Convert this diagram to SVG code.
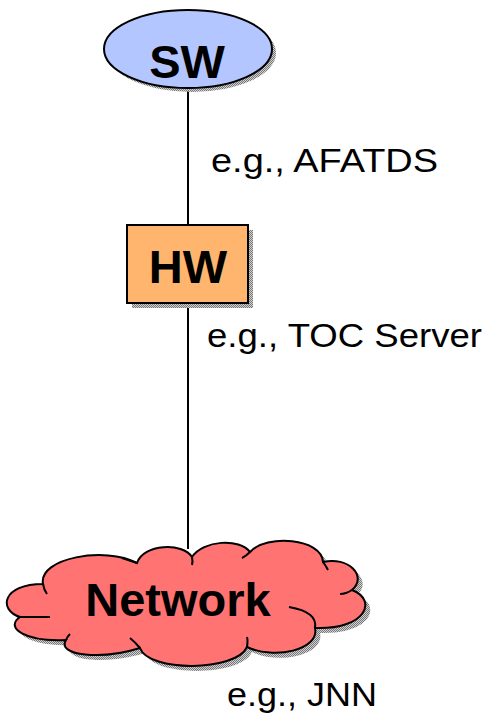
<svg xmlns="http://www.w3.org/2000/svg" width="491" height="717" viewBox="0 0 491 717">
  <defs>
    <!-- halftone grey used for drop shadows -->
    <pattern id="halftone" width="2" height="2" patternUnits="userSpaceOnUse">
      <rect width="2" height="2" fill="#d0d0d0"/>
      <rect width="1" height="1" fill="#777"/>
      <rect x="1" y="1" width="1" height="1" fill="#777"/>
    </pattern>
    <path id="cloudShape" d="M 43,584
      C 38,558 105,546 137,563
      C 143,544 183,542 192,557
      C 203,540 240,538 250,552
      C 266,534 322,538 323,562
      C 348,556 368,576 352,590
      C 378,600 366,630 315,628
      C 320,650 274,660 247,647
      C 236,672 148,672 140,648
      C 102,660 56,656 66,640
      C 26,642 4,628 20,617
      C -2,610 2,584 43,584 Z"/>
  </defs>
  <style>
    .edge { stroke: #000; stroke-width: 2; fill: none; }
    .shape { stroke: #000; stroke-width: 2; }
    .shadow { fill: url(#halftone); stroke: none; }
    .title { font-family: "Liberation Sans", Arial, sans-serif; font-weight: bold; font-size: 47px; fill: #000; text-anchor: middle; }
    .note { font-family: "Liberation Sans", Arial, sans-serif; font-size: 33px; fill: #000; }
    .notch { stroke: #000; stroke-width: 2; fill: none; }
  </style>

  <!-- connectors -->
  <g id="connectors">
    <line class="edge" x1="188" y1="88" x2="188" y2="225"/>
    <line class="edge" x1="188" y1="303" x2="188" y2="549"/>
  </g>

  <!-- software node -->
  <g id="sw">
    <ellipse class="shadow" cx="192" cy="53" rx="84" ry="39"/>
    <ellipse class="shape" cx="188" cy="49" rx="84" ry="39" fill="#b3c6ff"/>
    <text class="title" x="187" y="78">SW</text>
  </g>
  <text class="note" x="211" y="172" textLength="227" lengthAdjust="spacingAndGlyphs">e.g., AFATDS</text>

  <!-- hardware node -->
  <g id="hw">
    <rect class="shadow" x="132" y="230" width="121" height="78"/>
    <rect class="shape" x="127" y="225" width="121" height="78" fill="#ffb56e"/>
    <text class="title" x="188" y="283">HW</text>
  </g>
  <text class="note" x="207" y="347" textLength="275" lengthAdjust="spacingAndGlyphs">e.g., TOC Server</text>

  <!-- network node -->
  <g id="network">
    <use href="#cloudShape" class="shadow" transform="translate(5,5)"/>
    <use href="#cloudShape" class="shape" fill="#ff7373"/>
    <path class="notch" d="M 43,584 Q 44,590 47,594"/>
    <path class="notch" d="M 137,563 Q 128,560 122,558"/>
    <path class="notch" d="M 192,557 Q 193,562 192,565"/>
    <path class="notch" d="M 250,552 Q 246,556 242,558"/>
    <path class="notch" d="M 323,562 Q 326,566 328,570"/>
    <path class="notch" d="M 352,590 Q 346,594 340,594"/>
    <path class="notch" d="M 315,628 Q 318,612 289,607"/>
    <path class="notch" d="M 247,647 Q 248,640 247,637"/>
    <path class="notch" d="M 140,648 Q 135,642 130,638"/>
    <path class="notch" d="M 66,640 Q 67,637 70,634"/>
    <path class="notch" d="M 20,617 Q 35,617 50,617"/>
    <text class="title" x="178" y="616">Network</text>
  </g>
  <text class="note" x="227" y="706" textLength="150" lengthAdjust="spacingAndGlyphs">e.g., JNN</text>
</svg>
